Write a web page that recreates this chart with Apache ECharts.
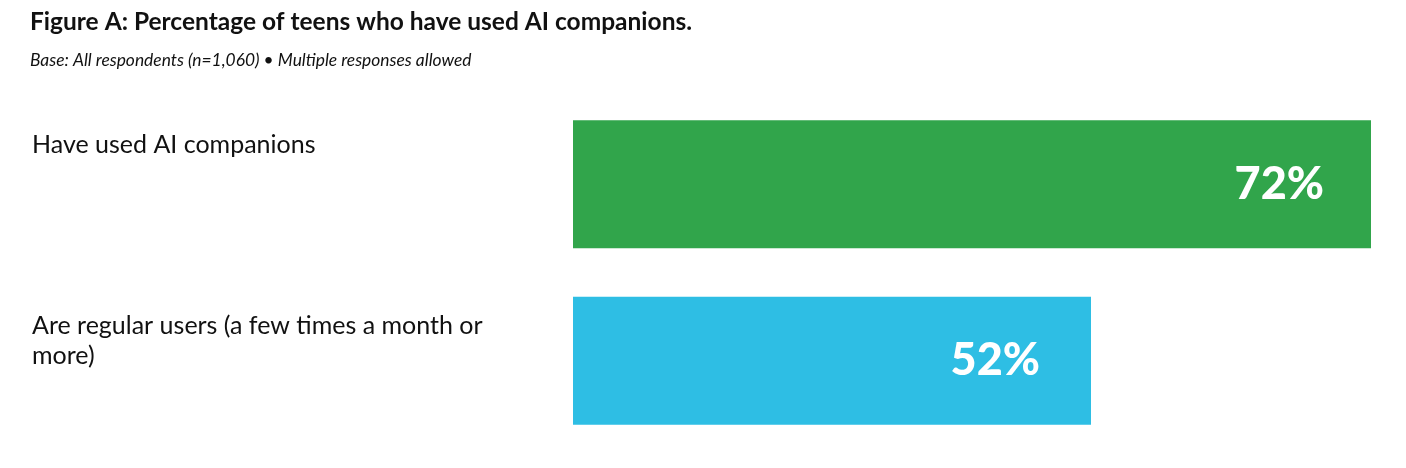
<!DOCTYPE html>
<html>
<head>
<meta charset="utf-8">
<script src="https://cdn.jsdelivr.net/npm/echarts@6/dist/echarts.min.js"></script>
<style>html,body{margin:0;padding:0;background:#fff}#c{width:1406px;height:468px}</style>
</head>
<body>
<div id="c"></div>
<script>
const titleText = 'Figure A: Percentage of teens who have used AI companions.';
const subtitleText = 'Base: All respondents (n=1,060) \u2022 Multiple responses allowed';
const categories = ['Have used AI companions', 'Are regular users (a few times a month or more)'];
const values = [72, 52];

const barColors = ['#31a54b', '#2ebee4'];
const labelTopOffsets = [-54.5, -49.5];
const valueLabelDistances = [47, 51];

const chart = echarts.init(document.getElementById('c'), null, {renderer: 'canvas'});
chart.setOption({
  animation: false,
  backgroundColor: '#ffffff',
  title: [
    {text: titleText, left: 30, top: 10, padding: 0,
     textStyle: {fontFamily: 'Lato', fontWeight: 'bold', fontSize: 24.5, color: '#111111'}},
    {text: subtitleText, left: 30, top: 52, padding: 0,
     textStyle: {fontFamily: 'Lato', fontStyle: 'italic', fontWeight: 'normal', fontSize: 17.4, color: '#111111'}}
  ],
  grid: {left: 573, right: 35, top: 96, bottom: 19, outerBoundsMode: 'none'},
  xAxis: {type: 'value', min: 15, max: 72, show: false},
  yAxis: {
    type: 'category', inverse: true,
    data: categories.map((c, i) => ({
      value: c,
      textStyle: {align: 'left', verticalAlign: 'top', padding: [labelTopOffsets[i], 0, 0, 0]}
    })),
    axisLine: {show: false}, axisTick: {show: false},
    axisLabel: {
      align: 'left', verticalAlign: 'top', margin: 541,
      fontFamily: 'Lato', fontSize: 25, lineHeight: 29.5, color: '#111111',
      width: 495, overflow: 'break'
    }
  },
  series: [{
    type: 'bar', barWidth: 128,
    data: values.map((v, i) => ({
      value: v,
      itemStyle: {color: barColors[i]},
      label: {distance: valueLabelDistances[i]}
    })),
    label: {
      show: true, position: 'insideRight',
      formatter: '{c}%', color: '#ffffff',
      fontFamily: 'Lato', fontWeight: 900, fontSize: 45
    }
  }]
});
</script>
</body>
</html>
